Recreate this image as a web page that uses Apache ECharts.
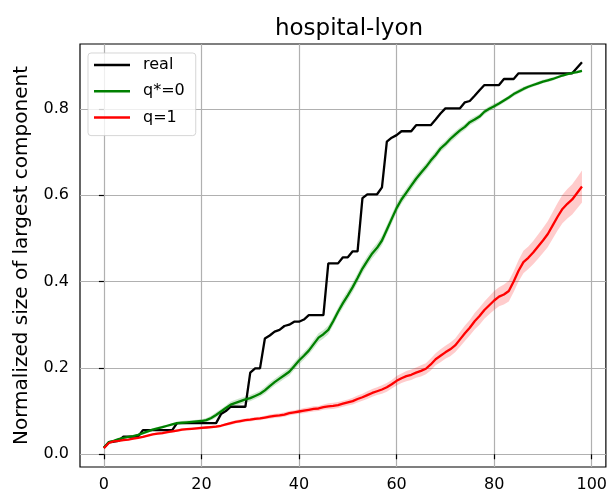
<!DOCTYPE html>
<html>
<head>
<meta charset="utf-8">
<script src="https://cdn.jsdelivr.net/npm/echarts@6/dist/echarts.min.js"></script>
<style>
  html, body { margin: 0; padding: 0; background: #fff; }
  #chart { width: 610px; height: 498px; }
</style>
</head>
<body>
<div id="chart"></div>
<script>
// Time steps 0..98
const steps = Array.from({ length: 99 }, (_, i) => i);

// Observed network
const realValues = [
  0.015,0.028,0.029,0.031,0.041,0.041,0.041,0.041,0.056,0.056,
  0.056,0.056,0.056,0.056,0.056,0.072,0.072,0.072,0.072,0.072,
  0.072,0.072,0.072,0.072,0.093,0.100,0.110,0.110,0.110,0.110,
  0.189,0.199,0.199,0.268,0.275,0.284,0.288,0.297,0.300,0.307,
  0.307,0.312,0.322,0.322,0.322,0.322,0.442,0.442,0.442,0.456,
  0.456,0.470,0.470,0.593,0.602,0.602,0.602,0.618,0.724,0.733,
  0.739,0.748,0.748,0.748,0.762,0.762,0.762,0.762,0.775,0.789,
  0.801,0.801,0.801,0.801,0.815,0.818,0.830,0.843,0.855,0.855,
  0.855,0.855,0.869,0.869,0.869,0.882,0.882,0.882,0.882,0.882,
  0.882,0.882,0.882,0.882,0.882,0.882,0.882,0.895,0.908
];

// Model q*=0: mean and half-width of the shaded band
const q0Mean = [
  0.015,0.028,0.031,0.035,0.038,0.040,0.042,0.045,0.049,0.053,
  0.057,0.060,0.063,0.066,0.069,0.072,0.073,0.074,0.075,0.076,
  0.077,0.079,0.084,0.091,0.099,0.107,0.115,0.119,0.123,0.127,
  0.130,0.135,0.140,0.148,0.158,0.167,0.175,0.183,0.191,0.204,
  0.217,0.228,0.240,0.255,0.270,0.278,0.288,0.308,0.330,0.350,
  0.368,0.387,0.408,0.430,0.448,0.465,0.478,0.495,0.520,0.545,
  0.570,0.590,0.606,0.622,0.638,0.652,0.665,0.680,0.693,0.708,
  0.718,0.730,0.740,0.750,0.758,0.769,0.775,0.782,0.793,0.800,
  0.806,0.812,0.819,0.826,0.834,0.840,0.846,0.851,0.855,0.859,
  0.863,0.866,0.869,0.873,0.877,0.880,0.883,0.885,0.888
];
const q0Spread = [
  0.001,0.002,0.002,0.002,0.002,0.002,0.002,0.002,0.003,0.003,
  0.003,0.003,0.003,0.003,0.003,0.004,0.004,0.004,0.004,0.004,
  0.004,0.005,0.005,0.006,0.006,0.006,0.007,0.007,0.007,0.007,
  0.007,0.007,0.007,0.008,0.008,0.008,0.008,0.008,0.009,0.009,
  0.009,0.009,0.009,0.010,0.010,0.010,0.010,0.010,0.010,0.011,
  0.011,0.011,0.011,0.011,0.011,0.011,0.011,0.011,0.011,0.011,
  0.011,0.010,0.010,0.010,0.010,0.009,0.009,0.009,0.009,0.008,
  0.008,0.008,0.008,0.007,0.007,0.007,0.007,0.006,0.006,0.006,
  0.006,0.005,0.005,0.005,0.005,0.005,0.005,0.004,0.004,0.004,
  0.004,0.004,0.004,0.003,0.003,0.003,0.003,0.003,0.003
];

// Model q=1: mean and half-width of the shaded band
const q1Mean = [
  0.014,0.026,0.030,0.031,0.033,0.034,0.036,0.038,0.040,0.043,
  0.046,0.048,0.049,0.051,0.053,0.055,0.057,0.058,0.059,0.060,
  0.061,0.062,0.063,0.064,0.066,0.069,0.072,0.075,0.077,0.079,
  0.080,0.082,0.083,0.085,0.087,0.089,0.090,0.092,0.095,0.097,
  0.099,0.101,0.103,0.105,0.106,0.109,0.111,0.112,0.114,0.117,
  0.120,0.123,0.128,0.132,0.137,0.142,0.146,0.150,0.155,0.162,
  0.170,0.176,0.181,0.184,0.189,0.193,0.198,0.208,0.220,0.228,
  0.236,0.243,0.252,0.266,0.280,0.293,0.308,0.320,0.334,0.345,
  0.356,0.365,0.370,0.378,0.400,0.425,0.445,0.455,0.467,0.481,
  0.495,0.510,0.530,0.550,0.568,0.580,0.590,0.605,0.620
];
const q1Spread = [
  0.001,0.002,0.002,0.002,0.002,0.002,0.002,0.002,0.002,0.002,
  0.002,0.003,0.003,0.003,0.003,0.003,0.003,0.003,0.003,0.003,
  0.003,0.003,0.003,0.003,0.003,0.003,0.004,0.004,0.004,0.004,
  0.004,0.004,0.004,0.004,0.005,0.005,0.005,0.005,0.005,0.005,
  0.005,0.006,0.006,0.006,0.006,0.006,0.007,0.007,0.007,0.007,
  0.007,0.008,0.008,0.008,0.009,0.009,0.009,0.010,0.010,0.010,
  0.011,0.011,0.012,0.012,0.012,0.013,0.013,0.014,0.014,0.015,
  0.015,0.016,0.016,0.017,0.018,0.018,0.019,0.020,0.020,0.021,
  0.022,0.022,0.023,0.024,0.024,0.025,0.026,0.026,0.027,0.028,
  0.029,0.030,0.031,0.032,0.033,0.034,0.035,0.036,0.037
];

const xTicks = [0, 20, 40, 60, 80, 100];
const yTicks = [0, 0.2, 0.4, 0.6, 0.8];

const FONT = 'DejaVu Sans';

const pairs = (vals) => steps.map((x, i) => [x, vals[i]]);

// Shaded mean ± spread band, drawn as one polygon in data coordinates
function bandSeries(name, mean, spread, fill) {
  return {
    name, type: 'custom', silent: true, z: 1, clip: true,
    data: [[steps[0], mean[0]]],
    renderItem: (params, api) => {
      const upper = steps.map((x, i) => api.coord([x, mean[i] + spread[i]]));
      const lower = steps.map((x, i) => api.coord([x, mean[i] - spread[i]])).reverse();
      return {
        type: 'polygon',
        shape: { points: upper.concat(lower) },
        style: { fill, stroke: null }
      };
    }
  };
}

function lineSeries(name, vals, color) {
  return {
    name, type: 'line', data: pairs(vals), showSymbol: false,
    lineStyle: { color, width: 2.3 }, itemStyle: { color }, z: 3
  };
}

const chart = echarts.init(document.getElementById('chart'), null, { renderer: 'canvas' });
chart.setOption({
  animation: false,
  backgroundColor: '#fff',
  title: {
    text: 'hospital-lyon',
    left: 344, textAlign: 'center', top: 13,
    textStyle: { fontFamily: FONT, fontSize: 23, fontWeight: 'normal', color: '#000' }
  },
  grid: {
    left: 80, right: 2, top: 44, bottom: 31,
    show: true, borderColor: '#000', borderWidth: 1.2, containLabel: false
  },
  legend: {
    left: 88, top: 53, orient: 'vertical',
    data: ['real', 'q*=0', 'q=1'],
    icon: 'rect', itemWidth: 36, itemHeight: 2.5, itemGap: 8.3,
    padding: [3, 11, 9, 6],
    borderColor: 'rgba(204,204,204,0.8)', borderWidth: 1, borderRadius: 3,
    backgroundColor: 'rgba(255,255,255,0.8)',
    textStyle: { fontFamily: FONT, fontSize: 16, color: '#000', lineHeight: 18, padding: [0, 0, 0, 8] }
  },
  xAxis: {
    type: 'value', min: -4.9, max: 102.9,
    axisLine: { show: false },
    axisTick: { show: true, length: 5, lineStyle: { color: '#000', width: 1.2 }, customValues: xTicks },
    axisLabel: {
      customValues: xTicks, margin: 10,
      fontFamily: FONT, fontSize: 16, color: '#000',
      formatter: (v) => String(Math.round(v))
    },
    splitLine: { show: true, lineStyle: { color: '#b0b0b0', width: 1.2 } }
  },
  yAxis: {
    type: 'value', min: -0.0295, max: 0.95,
    name: 'Normalized size of largest component',
    nameLocation: 'middle', nameGap: 48,
    nameTextStyle: { fontFamily: FONT, fontSize: 20, color: '#000' },
    axisLine: { show: false },
    axisTick: { show: true, length: 5, lineStyle: { color: '#000', width: 1.2 }, customValues: yTicks },
    axisLabel: {
      customValues: yTicks, margin: 11,
      fontFamily: FONT, fontSize: 16, color: '#000',
      formatter: (v) => v.toFixed(1)
    },
    splitLine: { show: true, lineStyle: { color: '#b0b0b0', width: 1.2 } }
  },
  series: [
    lineSeries('real', realValues, '#000000'),
    bandSeries('q*=0 band', q0Mean, q0Spread, 'rgba(0,128,0,0.2)'),
    lineSeries('q*=0', q0Mean, '#008000'),
    bandSeries('q=1 band', q1Mean, q1Spread, 'rgba(255,0,0,0.2)'),
    lineSeries('q=1', q1Mean, '#ff0000')
  ]
});
</script>
</body>
</html>
